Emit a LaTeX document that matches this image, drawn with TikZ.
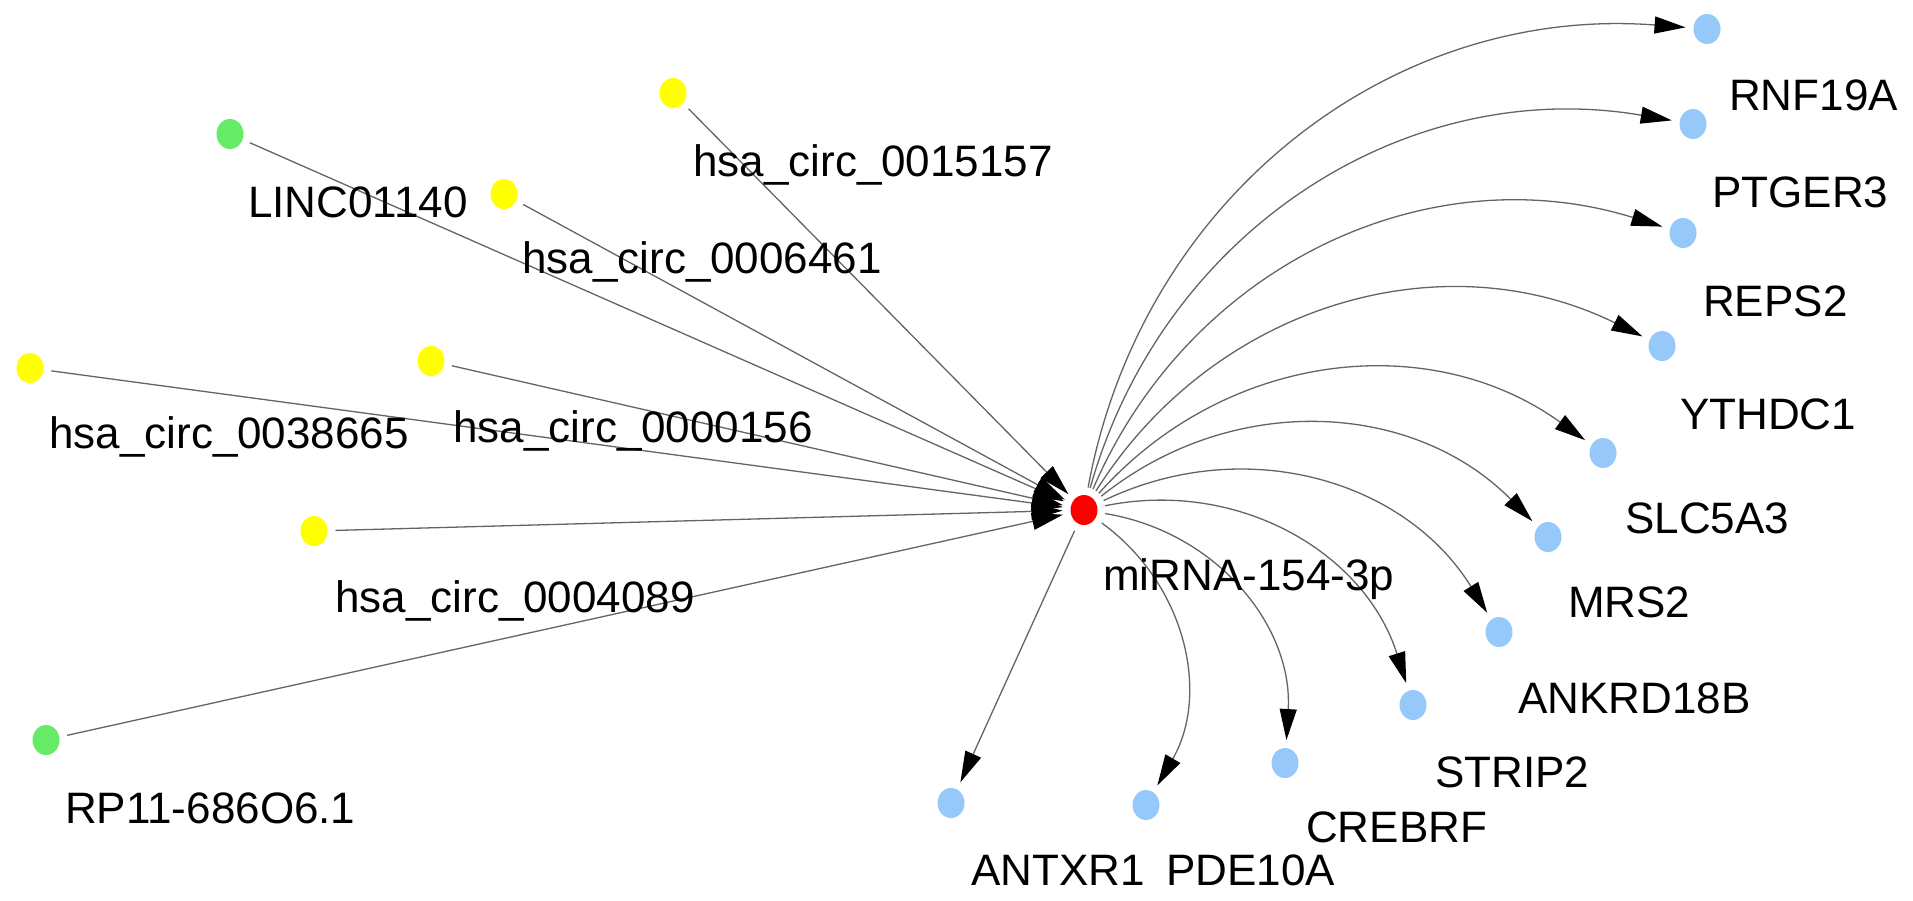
\documentclass[tikz,border=0pt]{standalone}
\usepackage{fontspec}
\setmainfont{Liberation Sans}
\usetikzlibrary{arrows.meta,shapes.geometric}
\definecolor{nyellow}{RGB}{255,255,0}
\definecolor{ngreen}{RGB}{102,235,102}
\definecolor{nred}{RGB}{255,0,0}
\definecolor{nblue}{RGB}{150,200,250}
\definecolor{edgegray}{RGB}{100,100,100}
\begin{document}
\begin{tikzpicture}[x=1pt,y=-1pt,
  dot/.style={ellipse,draw=none,minimum width=27pt,minimum height=30pt,inner sep=0pt,outer sep=8pt},
  ydot/.style={dot,fill=nyellow},
  gdot/.style={dot,fill=ngreen},
  rdot/.style={dot,fill=nred},
  bdot/.style={dot,fill=nblue},
  lab/.style={anchor=base west,inner sep=0pt,font=\fontsize{44}{50}\selectfont},
  link/.style={draw=edgegray,line width=1.3pt,-{Triangle[length=31pt,width=17pt,color=black]}},
  curvy/.style={link,bend left=42}]
\path[use as bounding box] (0,0) rectangle (1913,900);
% centre
\node[rdot] (mir) at (1084,510) {};
% sources
\node[gdot] (linc) at (230,134) {};
\node[ydot] (c15157) at (673,93) {};
\node[ydot] (c6461) at (504,194) {};
\node[ydot] (c38665) at (30,368) {};
\node[ydot] (c156) at (431,361) {};
\node[ydot] (c4089) at (314,531) {};
\node[gdot] (rp11) at (46,740) {};
% targets
\node[bdot] (rnf) at (1707,29) {};
\node[bdot] (ptger) at (1693,124) {};
\node[bdot] (reps) at (1683,233) {};
\node[bdot] (ythdc) at (1662,346) {};
\node[bdot] (slc) at (1603,453) {};
\node[bdot] (mrs) at (1548,537) {};
\node[bdot] (ankrd) at (1499,632) {};
\node[bdot] (strip) at (1413,705) {};
\node[bdot] (crebrf) at (1285,763) {};
\node[bdot] (pde) at (1146,805) {};
\node[bdot] (antxr) at (951,803) {};
% incoming edges
\foreach \s in {linc,c15157,c6461,c38665,c156,c4089,rp11}
  \draw[link] (\s) -- (mir);
% outgoing edges
\foreach \t in {rnf,ptger,reps,ythdc,slc,mrs,ankrd,strip,crebrf,pde}
  \draw[curvy] (mir) to (\t);
\draw[link] (mir) -- (antxr);
% labels
\node[lab] (llinc) at (248,217) {LINC01140};
\node[lab] (l15157) at (693,176) {hsa\_circ\_0015157};
\node[lab] (l6461) at (522,273) {hsa\_circ\_0006461};
\node[lab] (l38665) at (49,448) {hsa\_circ\_0038665};
\node[lab] (l156) at (453,442) {hsa\_circ\_0000156};
\node[lab] (l4089) at (335,612) {hsa\_circ\_0004089};
\node[lab] (lrp11) at (65,823) {RP11-686O6.1};
\node[lab] (lmir) at (1103,590) {miRNA-154-3p};
\node[lab] (lantxr) at (971,885) {ANTXR1};
\node[lab] (lpde) at (1166,885) {PDE10A};
\node[lab] (lcrebrf) at (1306,842) {CREBRF};
\node[lab] (lstrip) at (1435,787) {STRIP2};
\node[lab] (lankrd) at (1518,713) {ANKRD18B};
\node[lab] (lmrs) at (1568,617) {MRS2};
\node[lab] (lslc) at (1625,533) {SLC5A3};
\node[lab] (lythdc) at (1680,429) {YTHDC1};
\node[lab] (lreps) at (1703,316) {REPS2};
\node[lab] (lptger) at (1712,207) {PTGER3};
\node[lab] (lrnf) at (1729,110) {RNF19A};
\end{tikzpicture}
\end{document}
